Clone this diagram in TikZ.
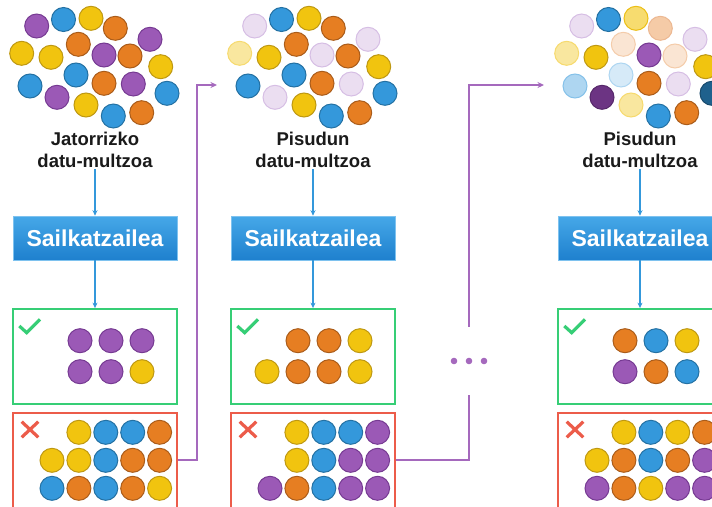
\documentclass[tikz,border=0pt]{standalone}
\usepackage{fontspec}
\setmainfont{Liberation Sans}
\usetikzlibrary{arrows.meta}

% ball colours: <name>f = fill, <name>e = edge
\definecolor{puf}{RGB}{155,89,182}  \definecolor{pue}{RGB}{118,58,146}
\definecolor{blf}{RGB}{52,152,219}  \definecolor{ble}{RGB}{36,113,163}
\definecolor{yef}{RGB}{241,196,15}  \definecolor{yee}{RGB}{190,152,18}
\definecolor{orf}{RGB}{230,126,34}  \definecolor{ore}{RGB}{170,92,26}
\definecolor{lpf}{RGB}{235,222,241} \definecolor{lpe}{RGB}{214,190,228}
\definecolor{lyf}{RGB}{249,231,159} \definecolor{lye}{RGB}{246,218,110}
\definecolor{myf}{RGB}{247,220,111} \definecolor{mye}{RGB}{236,190,20}
\definecolor{pef}{RGB}{245,203,167} \definecolor{pee}{RGB}{236,184,146}
\definecolor{lof}{RGB}{250,229,211} \definecolor{loe}{RGB}{244,204,170}
\definecolor{lbf}{RGB}{174,214,241} \definecolor{lbe}{RGB}{133,193,233}
\definecolor{vbf}{RGB}{214,234,248} \definecolor{vbe}{RGB}{174,214,241}
\definecolor{dpf}{RGB}{108,52,131}  \definecolor{dpe}{RGB}{86,40,106}
\definecolor{dbf}{RGB}{31,97,141}   \definecolor{dbe}{RGB}{24,74,108}

\definecolor{okgreen}{RGB}{54,206,118}
\definecolor{badred}{RGB}{236,92,74}
\definecolor{linkpurple}{RGB}{165,105,189}
\definecolor{arrowblue}{RGB}{52,152,219}
\definecolor{clftop}{RGB}{70,168,232}
\definecolor{clfbot}{RGB}{30,128,206}
\definecolor{inkdark}{RGB}{26,26,26}

\tikzset{
  ball/.style={fill=#1f, draw=#1e, line width=1pt},
  setlabel/.style={font=\fontsize{18.5}{22}\selectfont\bfseries, text=inkdark,
    align=center, inner sep=2pt, anchor=north},
  clfbox/.style={minimum width=164pt, minimum height=44pt, inner sep=0pt,
    top color=clftop, bottom color=clfbot, draw=clftop!70!white, line width=0.6pt,
    text=white, font=\fontsize{23}{26}\selectfont\bfseries},
  goodbox/.style={draw=okgreen, line width=1.8pt, minimum width=164pt,
    minimum height=95pt, inner sep=0pt},
  badbox/.style={draw=badred, line width=1.8pt, minimum width=164pt,
    minimum height=120pt, inner sep=0pt},
  feed/.style={draw=arrowblue, line width=1.3pt,
    -{Stealth[length=5.5pt,width=5pt]}},
  relay/.style={draw=linkpurple, line width=2pt},
  relayarrow/.style={relay, -{Stealth[length=6.5pt,width=6pt]}},
  tick/.style={draw=okgreen, line width=3.2pt},
  cross/.style={draw=badred, line width=3.2pt},
}

% one column of the pipeline: #1 x offset, #2 suffix, #3 label text
\newcommand\stagecolumn[3]{%
  \node[setlabel] (lab#2) at (#1+95,129.5) {#3};
  \node[clfbox] (clf#2) at (#1+95,238) {Sailkatzailea};
  \node[goodbox] (good#2) at (#1+95,356.5) {};
  \node[badbox] (bad#2) at (#1+95,473) {};
  \draw[feed] (lab#2.south) -- (clf#2.north);
  \draw[feed] (clf#2.south) -- (good#2.north);
  \draw[tick] (#1+19.3,326) -- (#1+26.7,332.7) -- (#1+40,319.3);
  \draw[cross] (#1+21.7,421.7) -- (#1+38.3,437.3)
               (#1+21.7,437.3) -- (#1+38.3,421.7);
}

\begin{document}
\begin{tikzpicture}[x=1pt,y=-1pt]
\useasboundingbox (0,0) rectangle (712,506);
\clip (0,0) rectangle (712,506);

% ---------- data sets (20 balls each, same layout, changing weights) ----------
\foreach \ox/\cols in {
  0/{pu,bl,ye,or,pu,ye,or,ye,pu,or,ye,bl,bl,or,pu,bl,pu,ye,bl,or},
  218/{lp,bl,ye,or,lp,ly,or,ye,lp,or,ye,bl,bl,or,lp,bl,lp,ye,bl,or},
  545/{lp,bl,my,pe,lp,ly,lo,ye,pu,lo,ye,vb,lb,or,lp,db,dp,ly,bl,or}}{
  \foreach \x/\y [count=\i] in {36.7/26,63.5/19.5,91/18.3,115.3/28.3,150/39.3,
      21.7/53.3,78.3/44.3,51/57.3,104/55,130/56,160.7/66.7,
      76/75,30/86,104/83.3,133.3/84,167/93.3,
      57/97.3,86/105,113.3/116,141.7/112.7}{
    \foreach \c [count=\j] in \cols {
      \ifnum\i=\j \draw[ball=\c] (\ox+\x,\y) circle (12); \fi
    }
  }
}

% ---------- pipeline columns ----------
\stagecolumn{0}{1}{Jatorrizko\\datu-multzoa}
\stagecolumn{218}{2}{Pisudun\\datu-multzoa}
\stagecolumn{545}{3}{Pisudun\\datu-multzoa}

% ---------- correctly classified samples ----------
\foreach \ox/\x/\y/\c in {
  0/80/340.7/pu, 0/111/340.7/pu, 0/142/340.7/pu,
  0/80/371.7/pu, 0/111/371.7/pu, 0/142/371.7/ye,
  218/80/340.7/or, 218/111/340.7/or, 218/142/340.7/ye,
  218/49/371.7/ye, 218/80/371.7/or, 218/111/371.7/or, 218/142/371.7/ye,
  545/80/340.7/or, 545/111/340.7/bl, 545/142/340.7/ye,
  545/80/371.7/pu, 545/111/371.7/or, 545/142/371.7/bl}{
  \draw[ball=\c] (\ox+\x,\y) circle (12);
}

% ---------- misclassified samples (5 per row, "no" leaves a slot empty) ----------
\def\emptyslot{no}
\foreach \ox/\cols in {
  0/{no,ye,bl,bl,or,ye,ye,bl,or,or,bl,or,bl,or,ye},
  218/{no,ye,bl,bl,pu,no,ye,bl,pu,pu,pu,or,bl,pu,pu},
  545/{no,ye,bl,ye,or,ye,or,bl,or,pu,pu,or,ye,pu,pu}}{
  \foreach \c [count=\k from 0] in \cols {
    \pgfmathtruncatemacro\rw{int(\k/5)}
    \pgfmathtruncatemacro\cl{mod(\k,5)}
    \edef\slot{\c}
    \ifx\slot\emptyslot\else
      \draw[ball=\c] (\ox+52+26.9*\cl,432.3+28*\rw) circle (12);
    \fi
  }
}

% ---------- weighting feedback links ----------
\coordinate (bend1) at (197,85);
\coordinate (into2) at (217,85);
\coordinate (into3) at (544,85);
\coordinate (lvl) at (0,460);
\node[minimum width=40pt, minimum height=68pt, inner sep=0pt] (dots) at (469,361) {};
\foreach \dx in {-15,0,15} \fill[linkpurple] ([xshift=\dx pt]dots.center) circle (3.3);

\draw[relayarrow] (bad1.east |- lvl) -| (bend1) -- (into2);
\draw[relay] (bad2.east |- lvl) -| (dots.south);
\draw[relayarrow] (dots.north) |- (into3);
\end{tikzpicture}
\end{document}
